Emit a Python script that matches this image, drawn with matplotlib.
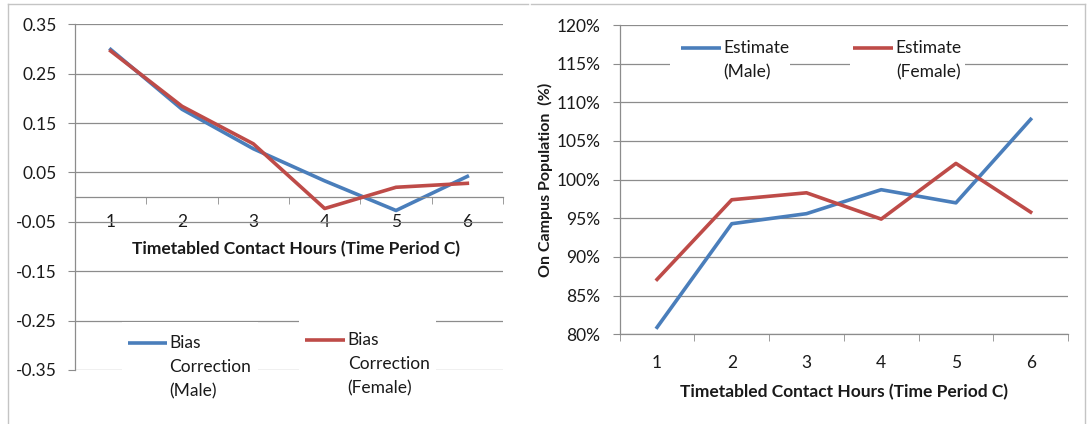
import matplotlib
matplotlib.use("AGG")
import matplotlib.pyplot as plt
from matplotlib.lines import Line2D
from matplotlib.patches import Rectangle
import numpy as np

plt.rcParams["font.family"] = ["Lato", "DejaVu Sans"]

# data
hours = [1, 2, 3, 4, 5, 6]
bias_male = [0.299, 0.178, 0.098, 0.033, -0.027, 0.042]
bias_female = [0.296, 0.184, 0.108, -0.023, 0.020, 0.028]
est_male = [80.9, 94.3, 95.6, 98.7, 97.0, 107.8]
est_female = [87.1, 97.4, 98.3, 94.9, 102.1, 95.8]

left_ticks = [-0.35, -0.25, -0.15, -0.05, 0.05, 0.15, 0.25, 0.35]
right_ticks = [80, 85, 90, 95, 100, 105, 110, 115, 120]

blue = "#4a7ebb"
red = "#be4b48"
grid_c = "#8c8c8c"
txt_c = "#1a1a1a"
fs = 12.5
xtitle = "Timetabled Contact Hours (Time Period C)"

fig = plt.figure(figsize=(10.88, 4.24), dpi=100)
W, H = 1088.0, 424.0


def px_axes(x0, y0, x1, y1):
    # pixel box -> figure fraction axes
    return fig.add_axes([x0 / W, 1 - y1 / H, (x1 - x0) / W, (y1 - y0) / H])


def legend_entry(ax, box, line, y, label, color, dy):
    ax.add_patch(Rectangle((box[0], y - 0.1), box[1] - box[0], 0.16,
                           transform=ax.transAxes, facecolor="white",
                           edgecolor="none", zorder=1.5, clip_on=False))
    ax.add_line(Line2D([line[0], line[1]], [y, y], transform=ax.transAxes,
                       color=color, lw=2.6, zorder=3, clip_on=False,
                       solid_capstyle="butt"))
    for i, ln in enumerate(label.split("\n")):
        ax.text(line[1] + 0.006, y - i * dy, ln, transform=ax.transAxes,
                va="center", ha="left", fontsize=fs, color=txt_c, zorder=3,
                clip_on=False)


def style(ax):
    ax.set_axisbelow(True)
    ax.grid(axis="y", color=grid_c, lw=0.9)
    ax.grid(axis="x", visible=False)
    for s in ["top", "right"]:
        ax.spines[s].set_visible(False)
    for s in ["left", "bottom"]:
        ax.spines[s].set_color(grid_c)
        ax.spines[s].set_linewidth(0.9)
    ax.set_xlim(0.5, 6.5)
    ax.set_xticks(hours)
    ax.set_xticks(np.arange(0.5, 7.0, 1.0), minor=True)
    ax.tick_params(axis="x", which="major", length=0, labelsize=fs,
                   colors=txt_c)
    ax.tick_params(axis="x", which="minor", length=5, color=grid_c,
                   direction="out")
    ax.tick_params(axis="y", length=5, color=grid_c, labelsize=fs,
                   labelcolor=txt_c)


# left chart: bias correction
ax1 = px_axes(75, 24.3, 503, 370)
style(ax1)
ax1.plot(hours, bias_male, color=blue, lw=2.6, zorder=2.5)
ax1.plot(hours, bias_female, color=red, lw=2.6, zorder=2.6)
ax1.set_ylim(-0.35, 0.35)
ax1.set_yticks(left_ticks)
ax1.set_yticklabels(["%.2f" % v for v in left_ticks])
ax1.spines["bottom"].set_position(("data", 0))
ax1.tick_params(axis="x", which="major", pad=12)
ax1.tick_params(axis="y", pad=8)
ax1.text(3.6, -0.106, xtitle, ha="center", va="center", fontsize=fs,
         fontweight="bold", color=txt_c)
dy1 = 24 / 345.7
legend_entry(ax1, (0.110, 0.428), (0.124, 0.215), 0.078,
             "Bias\nCorrection\n(Male)", blue, dy1)
legend_entry(ax1, (0.523, 0.843), (0.537, 0.631), 0.087,
             "Bias\nCorrection\n(Female)", red, dy1)

# right chart: on-campus estimate
ax2 = px_axes(619.7, 25, 1068, 334.3)
style(ax2)
ax2.plot(hours, est_male, color=blue, lw=2.6, zorder=2.5)
ax2.plot(hours, est_female, color=red, lw=2.6, zorder=2.6)
ax2.set_ylim(80, 120)
ax2.set_yticks(right_ticks)
ax2.set_yticklabels(["%d%%" % v for v in right_ticks])
ax2.tick_params(axis="x", which="major", pad=15)
ax2.tick_params(axis="y", pad=9)
ax2.set_xlabel(xtitle, fontsize=fs, fontweight="bold", color=txt_c,
               labelpad=9)
ax2.set_ylabel("On Campus Population  (%)", fontsize=fs - 1,
               fontweight="bold", color=txt_c, labelpad=2)
dy2 = 24 / 309.3
legend_entry(ax2, (0.112, 0.380), (0.137, 0.226), 0.926,
             "Estimate\n(Male)", blue, dy2)
legend_entry(ax2, (0.514, 0.771), (0.521, 0.610), 0.926,
             "Estimate\n(Female)", red, dy2)

# chart area frames
fc = "#c4c4c4"
fig.add_artist(Line2D([8 / W, 528 / W], [1 - 4 / H, 1 - 4 / H], color=fc, lw=1))
fig.add_artist(Line2D([8 / W, 8 / W], [0, 1 - 4 / H], color=fc, lw=1))
fig.add_artist(Line2D([531 / W, 1085 / W], [1 - 4 / H, 1 - 4 / H], color=fc, lw=1))
fig.add_artist(Line2D([1085 / W, 1085 / W], [0, 1 - 4 / H], color=fc, lw=1))

fig.savefig("out.png", dpi=100)
